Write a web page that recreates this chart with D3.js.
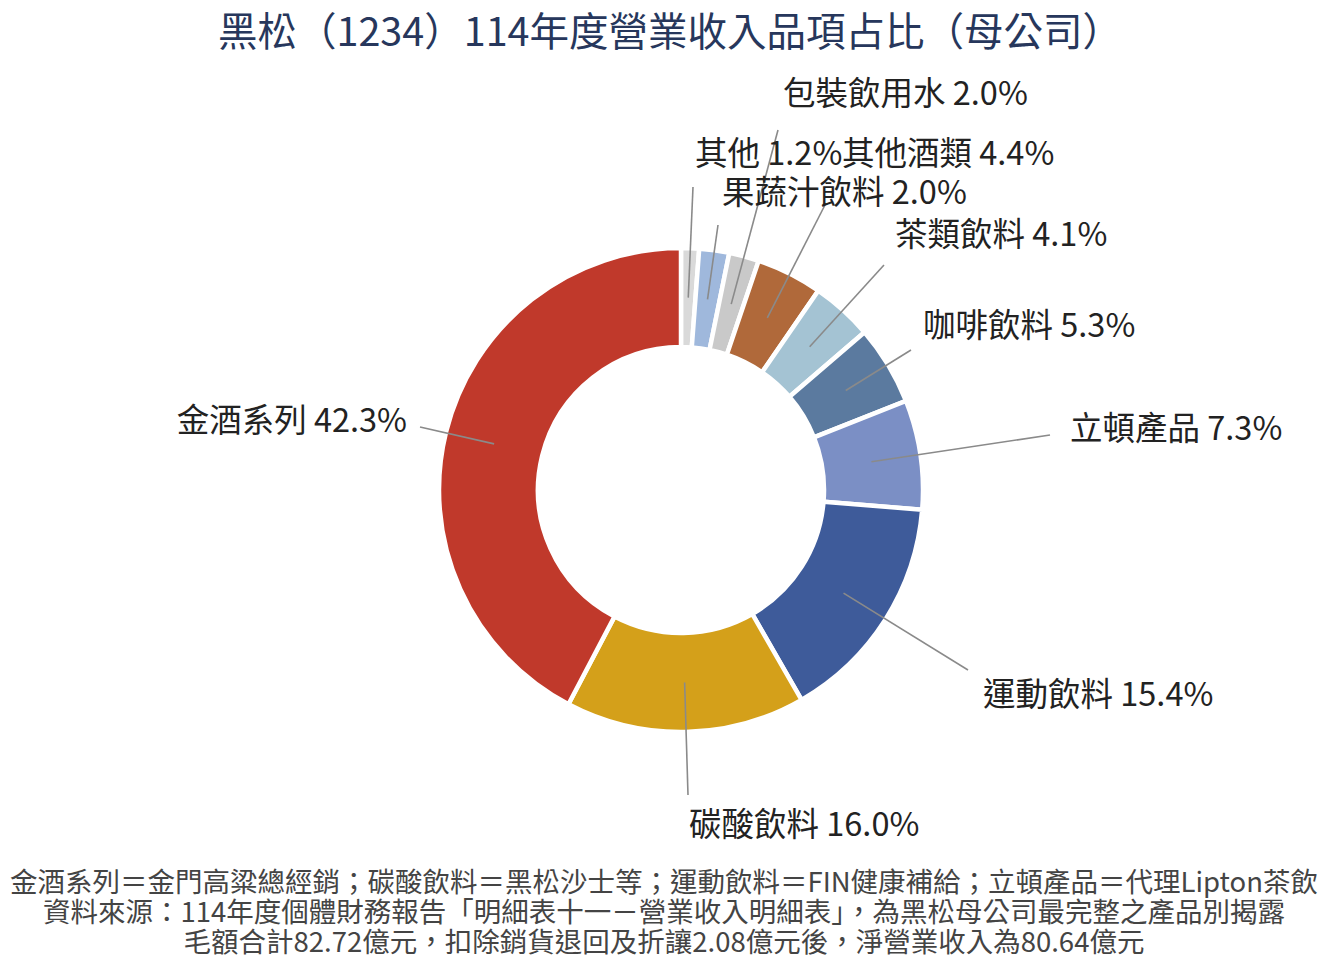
<!DOCTYPE html>
<html>
<head>
<meta charset="utf-8">
<script src="https://cdn.jsdelivr.net/npm/d3@7"></script>
<style>
  html, body { margin: 0; padding: 0; background: #ffffff; }
  svg { display: block; }
  text { font-family: "Noto Sans CJK TC", "Noto Sans CJK SC", "Noto Sans", sans-serif; }
</style>
</head>
<body>
<svg id="chart" width="1340" height="972"></svg>
<script>
// ---- data (clockwise from 12 o'clock, as drawn) ----
const categories = ["其他", "果蔬汁飲料", "包裝飲用水", "其他酒類", "茶類飲料", "咖啡飲料", "立頓產品", "運動飲料", "碳酸飲料", "金酒系列"];
const shares = [1.2, 2.0, 2.0, 4.4, 4.1, 5.3, 7.3, 15.4, 16.0, 42.3];
const sliceColors = ["#d9d9d9", "#9fb8dc", "#c9c9c9", "#b0693a", "#a4c3d3", "#5b7a9f", "#7b8fc5", "#3e5b9a", "#d4a01a", "#c0392b"];
const titleText = "黑松（1234）114年度營業收入品項占比（母公司）";
const footnotes = [
  "金酒系列＝金門高粱總經銷；碳酸飲料＝黑松沙士等；運動飲料＝FIN健康補給；立頓產品＝代理Lipton茶飲",
  "資料來源：114年度個體財務報告「明細表十一－營業收入明細表」，為黑松母公司最完整之產品別揭露",
  "毛額合計82.72億元，扣除銷貨退回及折讓2.08億元後，淨營業收入為80.64億元"
];

// ---- layout (label placement, not data) ----
const labelLayout = {
  "其他":       { lx: 693, ly: 187, tx: 695, ty: 150, anchor: "start" },
  "果蔬汁飲料": { lx: 718, ly: 225, tx: 722, ty: 189, anchor: "start" },
  "包裝飲用水": { lx: 778, ly: 130, tx: 783, ty: 90,  anchor: "start" },
  "其他酒類":   { lx: 826, ly: 203, tx: 842, ty: 150, anchor: "start" },
  "茶類飲料":   { lx: 884, ly: 265, tx: 895, ty: 231, anchor: "start" },
  "咖啡飲料":   { lx: 911, ly: 350, tx: 923, ty: 322, anchor: "start" },
  "立頓產品":   { lx: 1050, ly: 435, tx: 1070, ty: 425, anchor: "start" },
  "運動飲料":   { lx: 968, ly: 670, tx: 983, ty: 691, anchor: "start" },
  "碳酸飲料":   { lx: 688, ly: 795, tx: 689, ty: 821, anchor: "start" },
  "金酒系列":   { lx: 420, ly: 427, tx: 407, ty: 417, anchor: "end" }
};

const svg = d3.select("#chart");
const cx = 681, cy = 490, rOuter = 242, rInner = 143;

svg.append("text")
  .attr("x", 670).attr("y", 28)
  .attr("text-anchor", "middle")
  .attr("dominant-baseline", "central")
  .attr("font-size", 39.5)
  .attr("fill", "#27375c")
  .text(titleText);

const data = categories.map((c, i) => ({ name: c, value: shares[i], color: sliceColors[i] }));

const pie = d3.pie().value(d => d.value).sort(null).startAngle(0).endAngle(2 * Math.PI);
const arc = d3.arc().innerRadius(rInner).outerRadius(rOuter);
const arcs = pie(data);

const g = svg.append("g").attr("transform", `translate(${cx},${cy})`);

g.selectAll("path.slice")
  .data(arcs)
  .join("path")
  .attr("class", "slice")
  .attr("d", arc)
  .attr("fill", d => d.data.color)
  .attr("stroke", "#ffffff")
  .attr("stroke-width", 4.5)
  .attr("stroke-linejoin", "miter");

// leader lines
g.selectAll("line.leader")
  .data(arcs)
  .join("line")
  .attr("class", "leader")
  .attr("x1", d => arc.centroid(d)[0])
  .attr("y1", d => arc.centroid(d)[1])
  .attr("x2", d => labelLayout[d.data.name].lx - cx)
  .attr("y2", d => labelLayout[d.data.name].ly - cy)
  .attr("stroke", "#8a8a8a")
  .attr("stroke-width", 1.6);

// labels
svg.selectAll("text.lbl")
  .data(arcs)
  .join("text")
  .attr("class", "lbl")
  .attr("x", d => labelLayout[d.data.name].tx)
  .attr("y", d => labelLayout[d.data.name].ty)
  .attr("text-anchor", d => labelLayout[d.data.name].anchor)
  .attr("dominant-baseline", "central")
  .attr("font-size", 32.5)
  .attr("fill", "#222222")
  .text(d => `${d.data.name} ${d.data.value.toFixed(1)}%`);

// footnotes
svg.selectAll("text.foot")
  .data(footnotes)
  .join("text")
  .attr("class", "foot")
  .attr("x", 664)
  .attr("y", (d, i) => 880 + i * 30)
  .attr("text-anchor", "middle")
  .attr("dominant-baseline", "central")
  .attr("font-size", 27.5)
  .attr("fill", "#444444")
  .text(d => d);
</script>
</body>
</html>
